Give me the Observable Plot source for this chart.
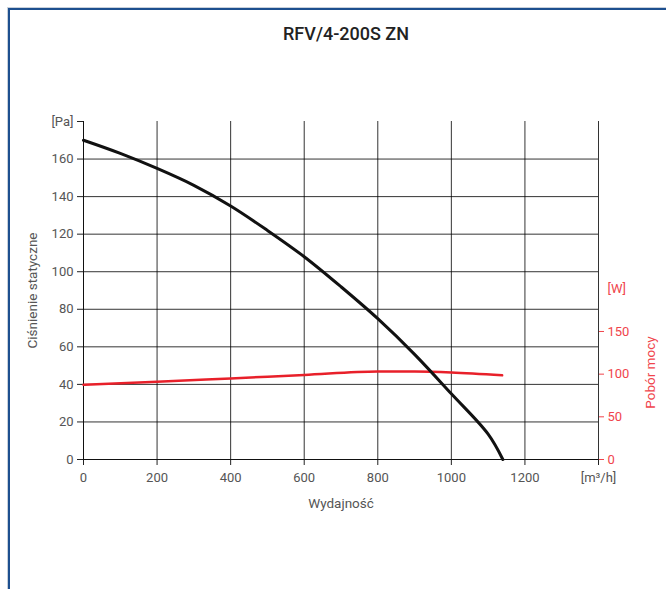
<!DOCTYPE html>
<html><head><meta charset="utf-8">
<script src="https://cdn.jsdelivr.net/npm/d3@7"></script>
<script src="https://cdn.jsdelivr.net/npm/@observablehq/plot@0.6"></script>
<style>
body{margin:0;background:#fff;}
#wrap{position:relative;width:666px;height:589px;overflow:hidden;font-family:Roboto,sans-serif;}
#frame{position:absolute;left:8px;top:8px;width:700px;height:620px;border-left:2px solid #1d4f8f;border-top:2px solid #1d4f8f;box-shadow:-1px -1px 0 #c8d0da;}
#title{position:absolute;left:0;width:692px;top:23px;text-align:center;font-size:18px;font-weight:500;color:#222;}
#chart{position:absolute;left:0;top:0;}
</style></head>
<body>
<div id="wrap"><div id="frame"></div><div id="title">RFV/4-200S ZN</div><div id="chart"></div></div>
<script>
// Data
const flowP = [0, 100, 200, 300, 400, 500, 600, 700, 800, 900, 1000, 1100, 1140];
const pressure = [170, 163, 155, 146, 135, 122, 108, 92, 75, 56, 35, 13.5, 0];
const flowW = [0, 200, 400, 600, 800, 900, 1000, 1138];
const power = [87.5, 91, 95, 99, 103, 103, 102, 98.6];
const xTicks = [0, 200, 400, 600, 800, 1000, 1200, 1400];
const yTicks = [0, 20, 40, 60, 80, 100, 120, 140, 160, 180];
const wTicks = [0, 50, 100, 150];
const wUnitTick = 200;
const xUnit = "[m³/h]", yUnit = "[Pa]", wUnit = "[W]";
const title = "RFV/4-200S ZN";
const xLabel = "Wydajność", yLabel = "Ciśnienie statyczne", wLabel = "Pobór mocy";

const wMax = 396, pMax = 180;
const k = pMax / wMax; // W -> Pa-scale factor
const red = "#f0444c";

const pData = flowP.map((q, i) => ({q, v: pressure[i]}));
const wData = flowW.map((q, i) => ({q, v: power[i] * k}));

const chart = Plot.plot({
  width: 666, height: 589,
  marginLeft: 83, marginRight: 68, marginTop: 121, marginBottom: 130,
  style: {fontFamily: "Roboto, sans-serif", fontSize: "13px", background: "transparent", overflow: "visible"},
  x: {domain: [0, 1400]},
  y: {domain: [0, pMax]},
  marks: [
    Plot.gridX(xTicks, {stroke: "#000", strokeOpacity: 0.8}),
    Plot.gridY(yTicks.slice(1, -1), {stroke: "#000", strokeOpacity: 0.8}),
    Plot.axisX({ticks: xTicks, tickSize: 6, tickPadding: 7, stroke: "#222", fill: "#555",
      tickFormat: d => d === 1400 ? xUnit : String(d), label: null}),
    Plot.axisY({ticks: yTicks, tickSize: 6, tickPadding: 4, stroke: "#222", fill: "#555",
      tickFormat: d => d === 180 ? yUnit : String(d), label: null}),
    Plot.axisY({anchor: "right", ticks: wTicks.map(w => w * k), tickSize: 5, tickPadding: 4,
      stroke: red, fill: red, tickFormat: d => String(Math.round(d / k)), label: null}),
    Plot.axisY({anchor: "right", ticks: [wUnitTick * k], tickSize: 0, tickPadding: 9,
      stroke: red, fill: red, tickFormat: () => wUnit, label: null}),
    Plot.ruleX([0], {stroke: "#111"}),
    Plot.ruleY([0], {stroke: "#111"}),
    Plot.text([xLabel], {frameAnchor: "bottom", dy: 48, fill: "#555", fontSize: 13.5}),
    Plot.text([yLabel], {frameAnchor: "left", textAnchor: "middle", dx: -51, rotate: -90, fill: "#555", fontSize: 13.5}),
    Plot.text([wLabel], {x: 1400, y: 46.3, dx: 52, rotate: -90, fill: red, fontSize: 13.5}),
    Plot.line(wData, {x: "q", y: "v", stroke: "#e8202a", strokeWidth: 2.5, curve: "monotone-x"}),
    Plot.line(pData, {x: "q", y: "v", stroke: "#111", strokeWidth: 3, curve: "catmull-rom"})
  ]
});
document.getElementById("chart").appendChild(chart);
</script>
</body></html>
